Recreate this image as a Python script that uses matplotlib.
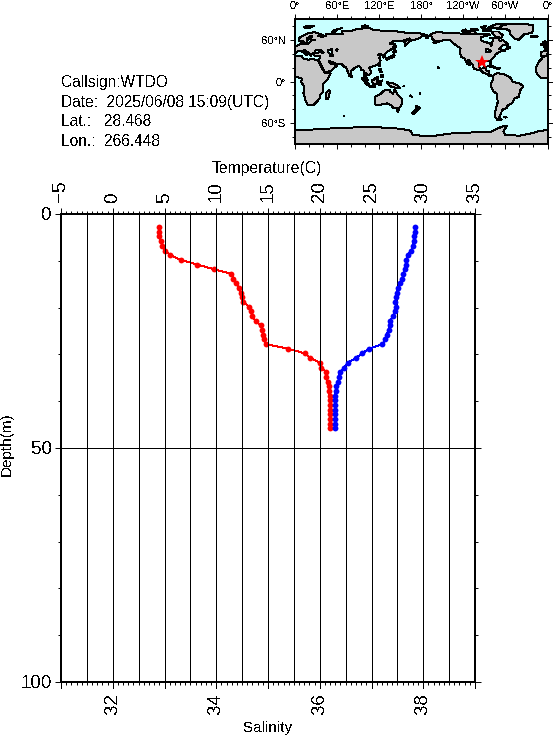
import numpy as np
import matplotlib
matplotlib.use("Agg")
import matplotlib.pyplot as plt
from matplotlib.ticker import MultipleLocator

plt.rcParams['font.family'] = ['Liberation Sans', 'DejaVu Sans']
plt.rcParams['text.antialiased'] = False

# profile, one reading per metre from 2.8 m
depth = [2.8 + i for i in range(44)]
salinity = [32.90, 32.90, 32.89, 32.93, 32.95, 33.01, 33.11, 33.32, 33.63, 33.96,
            34.29, 34.33, 34.38, 34.44, 34.47, 34.49, 34.52, 34.63, 34.67, 34.69,
            34.76, 34.86, 34.89, 34.91, 34.93, 34.96, 35.39, 35.72, 35.82, 36.00,
            36.03, 36.12, 36.13, 36.15, 36.18, 36.18, 36.19, 36.19, 36.20, 36.20,
            36.20, 36.20, 36.20, 36.20]
temperature = [29.23, 29.23, 29.13, 29.08, 28.98, 28.83, 28.52, 28.36, 28.36, 28.26,
               28.07, 27.97, 27.75, 27.59, 27.46, 27.37, 27.30, 27.37, 27.30, 27.05,
               26.81, 26.81, 26.66, 26.46, 26.33, 26.05, 24.79, 24.06, 23.50, 22.70,
               22.34, 21.98, 21.86, 21.79, 21.58, 21.54, 21.50, 21.48, 21.48, 21.47,
               21.46, 21.46, 21.46, 21.46]

temp_ticks = [-5, 0, 5, 10, 15, 20, 25, 30, 35]
sal_ticks = [32, 34, 36, 38]
depth_ticks = [0, 50, 100]
temp_grid = [-2.5, 0, 2.5, 5, 7.5, 10, 12.5, 15, 17.5, 20, 22.5, 25, 27.5, 30, 32.5]

info_lines = ["Callsign:WTDO", "Date:  2025/06/08 15:09(UTC)", "Lat.:   28.468", "Lon.:  266.448"]
station_lat = 28.468
station_lon = 266.448

# coastlines, lon/lat
eurasia = [(-9, 37), (-9, 43), (-2, 43.5), (-1, 46), (-4.5, 48), (2, 51), (8, 54), (8.5, 57), (10.5, 57), (10, 54),
           (14, 54), (19, 54.5), (21, 57), (24, 59), (29, 60), (23, 60), (21, 62), (25, 65), (22, 65.5), (17, 62),
           (18, 59.5), (16, 56), (13, 55.5), (11, 59), (6, 58), (5, 62), (13, 67), (20, 70), (28, 71), (40, 67),
           (33, 66), (38, 64), (44, 66), (44, 68), (54, 68.5), (68, 68), (67, 72.5), (73, 73), (80, 73), (87, 75),
           (104, 77.5), (113, 74), (128, 73), (140, 73), (160, 70), (170, 70), (180, 69), (190, 66), (181, 65),
           (178, 62.5), (170, 60), (163, 58), (162, 56), (157, 51), (156, 57), (164, 62), (155, 59), (142, 59),
           (135, 54.5), (141, 53), (140, 48), (132, 43), (128, 39), (129, 35.5), (126, 34.5), (126, 38), (121, 40),
           (118, 38), (122, 37), (120, 34), (122, 30), (120, 26), (113, 22), (108, 21), (106, 19), (109, 13), (105, 9),
           (100, 13), (103, 2), (104, 1.3), (100.5, 6), (98, 8), (98, 16), (94, 16), (94, 19), (91, 22.5), (87, 21),
           (80, 15), (80, 10), (77.5, 8), (73, 20), (69, 22), (67, 25), (57, 25.5), (56, 27), (48, 30), (51, 25),
           (56, 24.5), (59.5, 22.5), (52, 16), (43, 12.5), (39, 21), (35, 28), (34.5, 31), (36, 36.5), (30, 36.5),
           (26.5, 38), (26.5, 40), (29, 41), (35, 42), (41, 41.5), (37, 45), (33, 45), (30, 46), (28, 42), (26, 40.5),
           (23, 40), (23, 37), (20, 39.5), (19, 42), (13, 45.5), (12.5, 44), (18, 40), (16, 38), (12, 42), (8.5, 44),
           (3, 43), (0, 39.5), (-2, 36.7), (-5.5, 36)]
africa = [(-6, 35.8), (10, 37), (11, 33.5), (20, 31), (22, 32.8), (32, 31), (34, 28), (37, 21), (43, 12), (51, 12),
          (47, 4), (40, -4), (40, -15), (35, -20), (35, -24), (32, -28), (26, -34), (18.5, -34), (15, -27), (12, -17),
          (13.5, -8), (9, -1), (9.5, 4), (4, 6.3), (-4, 5), (-8, 4.5), (-13, 8.5), (-17, 14.5), (-16.5, 20),
          (-13, 27.5), (-9, 32)]
north_america = [(192, 66), (197, 70), (203, 71), (219, 70), (232, 69.5), (245, 68), (255, 68), (265, 68), (268, 69),
                 (275, 69), (278, 67), (265, 64), (265, 60), (267, 58), (278, 55), (280, 51), (281, 55), (283, 62),
                 (290, 62), (292, 58), (296, 60), (304, 53.5), (296, 52), (291, 47), (295, 46), (300, 44), (293, 43.5),
                 (290, 41.5), (286, 39), (284, 35), (279, 31), (280, 27), (279, 25), (277.5, 27), (277, 30), (270, 30),
                 (263, 29), (262, 26), (262, 21), (265, 18.5), (269, 19), (269, 21), (273, 21.5), (272, 16), (276, 15),
                 (276, 10), (280, 9), (282, 8), (278, 7.5), (275, 10), (268, 13), (265, 16), (255, 18), (254, 23),
                 (247, 31.5), (245.5, 28), (250, 23), (246, 25), (243, 30), (242.5, 33), (237, 35), (235.5, 40),
                 (236, 48), (232, 50), (226, 55), (222, 59), (212, 60), (208, 58), (197, 55), (204, 58), (198, 59),
                 (195, 62), (195, 65)]
south_america = [(283, 9), (288, 12), (298, 10.5), (308, 5), (310, 0), (320, -3), (325, -6), (325, -8), (321, -13),
                 (319, -22), (312, -25), (311, -30), (303, -35), (302, -38), (295, -41), (294, -46), (291, -52),
                 (295, -55), (288, -55), (285, -50), (286, -40), (289, -30), (288, -18), (283, -14), (279, -6),
                 (279, -3), (282, 2), (282, 7)]
greenland = [(287, 76), (290, 79), (300, 82), (325, 83.5), (340, 81), (340, 76), (338, 70), (327, 68), (319, 60),
             (313, 62), (307, 68), (306, 73), (300, 76)]
australia = [(114, -22), (122, -18), (126, -14), (131, -11.5), (136, -12), (136, -15), (140, -17.5), (142, -11),
             (146, -19), (153, -26), (153, -31), (150, -37), (146, -39), (140, -38), (137, -34), (131, -31.5),
             (124, -33), (115, -34.5), (113.5, -26)]
antarctica = [(0, -70), (30, -69), (60, -67), (90, -66), (120, -66), (150, -68), (165, -71), (168, -77), (180, -78),
              (200, -78), (220, -75), (240, -74), (260, -73), (280, -72), (295, -65), (302, -64), (297, -72),
              (300, -77), (320, -78), (335, -75), (350, -71), (360, -70), (360, -90), (0, -90)]
islands = [
    [(44, -25), (47, -25), (50, -15), (49, -12), (44, -17)],  # Madagascar
    [(-5, 50), (1, 51), (-2, 56), (-3, 58.5), (-6, 57), (-3, 54), (-5, 52)],  # Britain
    [(-10, 52), (-6, 52), (-6, 55), (-9, 54)],  # Ireland
    [(-24, 65), (-15, 66), (-14, 64.5), (-20, 63.5)],  # Iceland
    [(130, 32), (132, 34), (136, 35.5), (140, 38), (141, 41), (142, 37), (140, 35), (136, 33.5), (131, 31)],  # Honshu
    [(140, 42), (142, 45.5), (145, 43.5), (143, 42)],  # Hokkaido
    [(142, 46), (143.5, 50), (143, 54), (142, 53)],  # Sakhalin
    [(95, 5.5), (98, 4), (104, -2), (106, -6), (102, -4), (98, 1)],  # Sumatra
    [(106, -6), (114, -7), (114, -8.5), (106, -7.5)],  # Java
    [(109, 1), (113, 3), (117, 7), (119, 5), (117, 1), (116, -4), (111, -3)],  # Borneo
    [(119, -5), (120, 0), (125, 1.5), (121, -1), (123, -5), (121, -3)],  # Sulawesi
    [(131, -1), (138, -2), (145, -5), (150, -10), (143, -9), (138, -8), (133, -4)],  # New Guinea
    [(120, 18), (122, 18.5), (124, 13), (121, 13.5)],  # Luzon
    [(122, 9), (126, 9.5), (126, 6), (122, 7)],  # Mindanao
    [(120, 23), (121.5, 25), (121, 22)],  # Taiwan
    [(80, 9.5), (82, 7), (80.5, 6)],  # Sri Lanka
    [(145, -41), (148, -41), (147, -43.5), (145.5, -43)],  # Tasmania
    [(173, -35), (178, -38), (175, -41), (173, -39.5)],  # NZ north
    [(172, -41), (174, -42), (170, -46.5), (167, -46)],  # NZ south
    [(52, 71), (56, 74), (68, 77), (60, 75), (56, 71)],  # Novaya Zemlya
    [(12, 78), (18, 80), (27, 80), (20, 77)],  # Svalbard
    [(95, 79), (105, 79), (100, 81)],  # Severnaya Zemlya
    [(275, 22), (283, 20), (286, 20), (279, 23)],  # Cuba
    [(288, 19), (292, 20), (291.5, 18), (288, 18)],  # Hispaniola
    [(301, 47), (304, 47), (307, 49), (303, 51)],  # Newfoundland
    [(280, 72), (290, 72), (296, 67), (294, 63), (287, 64), (283, 68)],  # Baffin
    [(245, 72), (255, 73), (258, 69), (250, 69)],  # Victoria
    [(275, 77), (285, 82), (300, 83), (290, 77)],  # Ellesmere
    [(238, 73), (243, 75), (245, 72), (240, 71.5)],  # Banks
    [(268, 75), (280, 75), (278, 73), (268, 73)],  # Devon, Somerset
    [(250, 75), (258, 76), (262, 74), (252, 74)],  # Melville
    [(265, 78), (272, 80), (270, 77)],  # Axel Heiberg
    [(278, 63), (283, 63), (281, 62)],  # Southampton
    [(186, 63), (190, 63.5), (189, 62.5)],  # St Lawrence
    [(204, 21), (205, 19), (204, 19.5)],  # Hawaii
    [(298, -51), (302, -51), (300, -52)],  # Falklands
    [(164, -20), (167, -22), (165, -21.5)],  # New Caledonia
    [(178, -17), (179, -18), (177.5, -18)],  # Fiji
    [(69, -49), (70.5, -49), (70, -50)],  # Kerguelen
    [(155, -6), (156, -7), (154.5, -7)],  # Solomons
]
lakes = [
    [(47, 45), (53, 46.5), (53, 41), (54, 37), (50, 37), (49, 40.5), (47, 43)],  # Caspian
    [(58, 46), (61, 46.5), (60, 44)],  # Aral
    [(272, 47), (276, 46), (280, 44), (277, 42), (273, 42)],  # Great Lakes
]

LW = 0.7

fig = plt.figure(figsize=(5.53, 7.36), dpi=100)
W, H = 553.0, 736.0

# main profile panel
ax = fig.add_axes([61 / W, 1 - 682 / H, 414 / W, 468 / H])
ax.set_xlim(31, 39)
ax.set_ylim(100, 0)
ax2 = ax.twiny()
ax2.set_xlim(-5, 35)

for t in temp_grid:
    ax2.axvline(t, color='black', lw=LW, antialiased=False, zorder=1)
ax.axhline(50, color='black', lw=LW, antialiased=False, zorder=1)

ax.plot(salinity, depth, '-o', color='red', lw=LW, ms=4.2, mew=0, antialiased=False, zorder=3)
ax2.plot(temperature, depth, '-o', color='blue', lw=LW, ms=4.2, mew=0, antialiased=False, zorder=3)

ax.set_xticks(sal_ticks)
ax.xaxis.set_minor_locator(MultipleLocator(0.1))
ax.set_yticks(depth_ticks)
ax.yaxis.set_minor_locator(MultipleLocator(10))
ax.tick_params(axis='x', which='major', length=4.3, width=LW, labelsize=13.5, pad=4, labelrotation=90)
ax.tick_params(axis='x', which='minor', length=2, width=LW)
ax.tick_params(axis='y', which='major', left=True, right=True, length=4.3, width=LW, labelsize=13.5, pad=2)
ax.tick_params(axis='y', which='minor', left=True, right=True, length=2.2, width=LW)
for t in range(31, 40):
    ax.plot([t, t], [100, 101.2], color='black', lw=LW, clip_on=False, antialiased=False)

ax2.set_xticks(temp_ticks)
ax2.xaxis.set_minor_locator(MultipleLocator(0.5))
ax2.tick_params(axis='x', which='major', length=4.3, width=LW, labelsize=13.5, pad=4, labelrotation=90)
ax2.tick_params(axis='x', which='minor', length=2, width=LW)

for a in (ax, ax2):
    for s in a.spines.values():
        s.set_linewidth(1.44)

fig.text(267 / W, 1 - 169 / H, "Temperature(C)", ha='center', va='center', fontsize=11.3)
fig.text(268 / W, 1 - 728 / H, "Salinity", ha='center', va='center', fontsize=11)
fig.text(7 / W, 1 - 444 / H, "Depth(m)", ha='center', va='center', rotation=90, fontsize=11)

# info block
for line, y_px in zip(info_lines, [82, 102, 122, 141]):
    fig.text(61 / W, 1 - y_px / H, line, ha='left', va='center', fontsize=11.2)

# world map
m = fig.add_axes([295 / W, 1 - 144 / H, 252.5 / W, 125 / H])
m.set_facecolor('#c8ffff')
m.set_xlim(0, 360)
m.set_ylim(-90, 90)


def draw_poly(pts, color):
    pts = np.array(pts, dtype=float)
    for shift in (0, 360):
        m.fill(pts[:, 0] + shift, pts[:, 1], facecolor=color, edgecolor='black', lw=LW, antialiased=False)


m.fill(*np.array(antarctica).T, facecolor='#c8c8c8', edgecolor='black', lw=LW, antialiased=False)
for poly in [eurasia, africa, north_america, south_america, greenland, australia] + islands:
    draw_poly(poly, '#c8c8c8')
for poly in lakes:
    draw_poly(poly, '#c8ffff')
m.set_xlim(0, 360)
m.set_ylim(-90, 90)

m.plot([station_lon], [station_lat], marker='*', color='red', ms=10, mew=0, zorder=5, antialiased=False)

m.set_xticks([0, 60, 120, 180, 240, 300, 360])
m.set_xticklabels(["0°", "60°E", "120°E", "180°", "120°W", "60°W", "0°"])
m.set_yticks([-60, 0, 60])
m.set_yticklabels(["60°S", "0°", "60°N"])
m.xaxis.set_minor_locator(MultipleLocator(20))
m.yaxis.set_minor_locator(MultipleLocator(20))
m.tick_params(axis='x', which='major', top=True, bottom=True, labeltop=True, labelbottom=False,
              length=3.6, width=LW, labelsize=8, pad=2.2)
m.tick_params(axis='y', which='major', left=True, right=True, length=3.6, width=LW, labelsize=8, pad=3)
m.tick_params(axis='both', which='minor', top=True, bottom=True, left=True, right=True, length=2, width=LW)
for s in m.spines.values():
    s.set_linewidth(1.44)

fig.savefig("out.png", dpi=100)
